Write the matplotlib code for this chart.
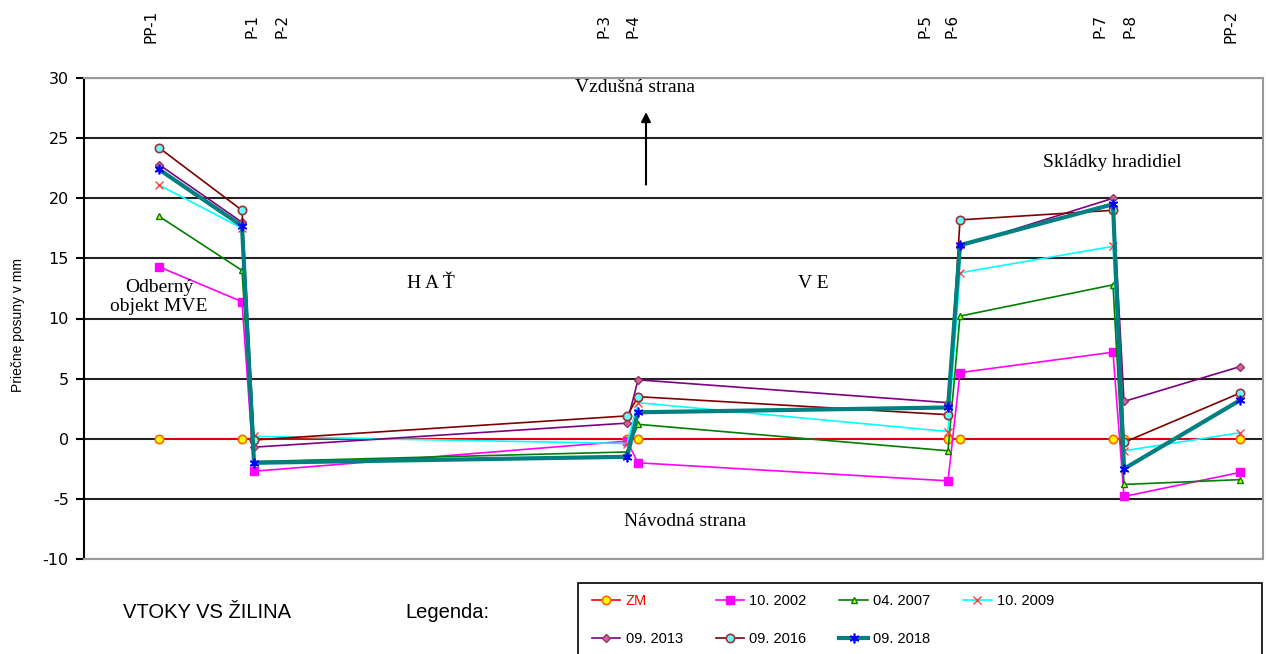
import numpy as np
import matplotlib.pyplot as plt
from matplotlib.patches import Rectangle

plt.rcParams['axes.unicode_minus'] = False

# staničenie bodov (relatívne k PP-1) a ich názvy
points = ['PP-1', 'P-1', 'P-2', 'P-3', 'P-4', 'P-5', 'P-6', 'P-7', 'P-8', 'PP-2']
station = [0, 83, 95, 468, 479, 789, 801, 954, 965, 1081]
# kde sú napísané názvy bodov nad grafom
label_pos = [-8, 93, 123, 445, 474, 766, 793, 941, 971, 1072]

zm = [0, 0, 0, 0, 0, 0, 0, 0, 0, 0]
s2002 = [14.3, 11.4, -2.7, -0.2, -2.0, -3.5, 5.5, 7.2, -4.8, -2.8]
s2007 = [18.5, 14.0, -1.9, -1.1, 1.2, -1.0, 10.2, 12.8, -3.8, -3.4]
s2009 = [21.1, 17.5, 0.2, -0.4, 3.0, 0.6, 13.8, 16.0, -1.0, 0.5]
s2013 = [22.8, 18.0, -0.7, 1.3, 4.9, 3.0, 16.0, 20.0, 3.1, 6.0]
s2016 = [24.2, 19.0, -0.1, 1.9, 3.5, 2.0, 18.2, 19.0, -0.3, 3.8]
s2018 = [22.4, 17.7, -2.0, -1.5, 2.2, 2.6, 16.1, 19.5, -2.5, 3.2]

W, H = 1266, 654
fig = plt.figure(figsize=(W / 100, H / 100), dpi=100)
ax = fig.add_axes([84 / W, 1 - 559 / H, (1263 - 84) / W, (559 - 78) / H])

sans = 'Liberation Sans'
serif = 'Liberation Serif'

l0, = ax.plot(station, zm, color='red', lw=1.2, marker='o', ms=6,
              mfc='yellow', mec='#ff6600', mew=1.2, label='ZM')
l1, = ax.plot(station, s2002, color='magenta', lw=1.2, marker='s', ms=6,
              mfc='magenta', mec='magenta', label='10. 2002')
l2, = ax.plot(station, s2007, color='#008000', lw=1.2, marker='^', ms=5,
              mfc='#ccff00', mec='#008000', label='04. 2007')
l3, = ax.plot(station, s2009, color='cyan', lw=1.2, marker='x', ms=6,
              mec='#ff4040', mew=1.0, label='10. 2009')
l4, = ax.plot(station, s2013, color='#800080', lw=1.2, marker='D', ms=4,
              mfc='#cc6699', mec='#993366', label='09. 2013')
l5, = ax.plot(station, s2016, color='#800000', lw=1.2, marker='o', ms=6,
              mfc='#66ffff', mec='#993333', mew=1.2, label='09. 2016')
l6, = ax.plot(station, s2018, color='#008080', lw=3, marker=(6, 2, 0), ms=7,
              mec='blue', mew=1.2, label='09. 2018')

ax.set_xlim(-75, 1104)
ax.set_ylim(-10, 30)
ax.set_yticks(np.arange(-10, 31, 5))
ax.set_xticks([])
ax.grid(axis='y', color='#222222', lw=1.5)
ax.set_axisbelow(True)
for s in ['top', 'right', 'bottom']:
    ax.spines[s].set_color('#999999')
    ax.spines[s].set_linewidth(1.5)
ax.spines['left'].set_color('black')
ax.spines['left'].set_linewidth(1.5)
ax.tick_params(axis='y', length=6, width=1.5, labelsize=11.5, pad=5)
for t in ax.get_yticklabels():
    t.set_fontfamily('DejaVu Sans')

fig.text(18 / W, 1 - 325 / H, 'Priečne posuny v mm', rotation=90,
         ha='center', va='center', fontsize=10, family=sans)

# názvy bodov hore
trans = ax.get_xaxis_transform()
for name, xs in zip(points, label_pos):
    ax.text(xs, 1 + 52 / (559 - 78), name, rotation=90, ha='center',
            va='center', fontsize=11, family='DejaVu Sans', transform=trans)

# popisy v grafe
ax.text(635 - 159, 29.2, 'Vzdušná strana', fontsize=14, family=serif,
        ha='center', va='center')
ax.annotate('', xy=(646 - 159, 27.4), xytext=(646 - 159, 20.9),
            arrowprops=dict(arrowstyle='-|>', color='black', lw=1.5,
                            mutation_scale=14))
ax.text(685 - 159, -6.9, 'Návodná strana', fontsize=14, family=serif,
        ha='center', va='center')
ax.text(431 - 159, 12.9, 'H A Ť', fontsize=14, family=serif,
        ha='center', va='center')
ax.text(813 - 159, 12.9, 'V E', fontsize=14, family=serif,
        ha='center', va='center')
ax.text(0, 11.8, 'Odberný\nobjekt MVE', fontsize=14, family=serif,
        ha='center', va='center', linespacing=1.1)
ax.text(1112 - 159, 23.0, 'Skládky hradidiel', fontsize=14, family=serif,
        ha='center', va='center')

fig.text(207 / W, 1 - 612 / H, 'VTOKY VS ŽILINA', fontsize=14.5, family=sans,
         ha='center', va='center')
fig.text(447 / W, 1 - 612 / H, 'Legenda:', fontsize=14.5, family=sans,
         ha='center', va='center')

# rámik legendy (spodok je odrezaný)
fig.patches.append(Rectangle((578 / W, -0.05), (1262 - 578) / W,
                             1 - 583 / H + 0.05, transform=fig.transFigure,
                             fill=False, edgecolor='black', lw=1.2))

order = [l0, l4, l1, l5, l2, l6, l3]
leg = fig.legend(order, [l.get_label() for l in order], loc='upper left',
                 ncol=4, bbox_to_anchor=(592 / W, 1 - 594 / H),
                 frameon=False, prop={'family': sans, 'size': 10.5},
                 handlelength=1.95, handletextpad=0.35, borderpad=0,
                 borderaxespad=0, labelspacing=1.65, columnspacing=2.26)
leg.get_texts()[0].set_color('red')

fig.savefig('out.png', dpi=100)
